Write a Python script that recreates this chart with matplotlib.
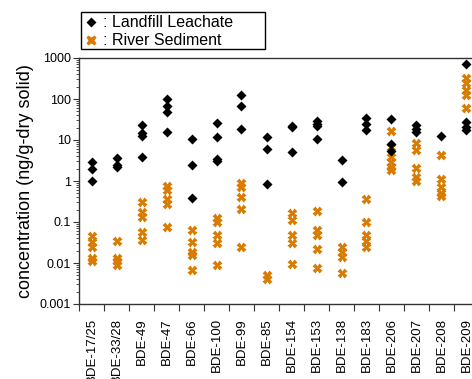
import numpy as np
import matplotlib
matplotlib.use('Agg')
import matplotlib.pyplot as plt
from matplotlib.lines import Line2D
from matplotlib.patches import Rectangle
from matplotlib.ticker import LogLocator, FixedLocator, NullFormatter

plt.rcParams['font.family'] = ['Liberation Sans', 'DejaVu Sans']

congeners = ['BDE-17/25', 'BDE-33/28', 'BDE-49', 'BDE-47', 'BDE-66', 'BDE-100',
             'BDE-99', 'BDE-85', 'BDE-154', 'BDE-153', 'BDE-138', 'BDE-183',
             'BDE-206', 'BDE-207', 'BDE-208', 'BDE-209']

# landfill leachate samples (ng/g-dry solid)
leachate = [
    [2.9, 2.0, 1.0],
    [3.6, 2.5, 2.2],
    [23, 14.5, 12.5, 3.9],
    [99, 68, 48, 16],
    [10.5, 2.4, 0.39],
    [26, 12, 3.5, 3.1],
    [126, 66, 19],
    [11.7, 5.9, 0.83],
    [22, 20.5, 5.0],
    [29.5, 24.5, 22, 10.7],
    [3.2, 0.92],
    [34, 25, 18],
    [32, 8.2, 5.4],
    [23, 19, 16],
    [12.6],
    [700, 28, 20.5, 17.5],
]

# river sediment samples (ng/g-dry solid)
sediment = [
    [0.045, 0.032, 0.025, 0.013, 0.011],
    [0.035, 0.013, 0.011, 0.009],
    [0.30, 0.18, 0.13, 0.057, 0.037],
    [0.75, 0.6, 0.36, 0.27, 0.075],
    [0.065, 0.032, 0.019, 0.016, 0.0066],
    [0.125, 0.1, 0.047, 0.03, 0.009],
    [0.9, 0.7, 0.4, 0.21, 0.025],
    [0.005, 0.004],
    [0.17, 0.11, 0.047, 0.031, 0.0096],
    [0.19, 0.063, 0.047, 0.022, 0.0077],
    [0.025, 0.019, 0.014, 0.0057],
    [0.36, 0.1, 0.047, 0.035, 0.025],
    [16.6, 6.9, 3.9, 2.95, 2.2, 1.85],
    [8.5, 5.7, 2.1, 1.25, 1.0],
    [4.3, 1.15, 0.72, 0.52, 0.42],
    [325, 243, 168, 126, 60],
]

orange = '#D97B00'
spine_col = '#333333'

fig = plt.figure(figsize=(4.72, 3.79), dpi=100)
ax = fig.add_axes([79/472, 1 - 304/379, 400/472, 246/379])

for i in range(len(congeners)):
    ax.plot([i] * len(sediment[i]), sediment[i], ls='none', marker='X',
            ms=7, color=orange, mec='none')
    ax.plot([i] * len(leachate[i]), leachate[i], ls='none', marker='D',
            ms=5, color='black', mec='none')

ax.set_yscale('log')
ax.set_ylim(0.001, 1000)
ax.set_xlim(-0.5, len(congeners) - 0.5)

ax.set_yticks([0.001, 0.01, 0.1, 1, 10, 100, 1000])
ax.set_yticklabels(['0.001', '0.01', '0.1', '1', '10', '100', '1000'])
ax.yaxis.set_minor_locator(LogLocator(base=10, subs=np.arange(2, 10), numticks=20))
ax.yaxis.set_minor_formatter(NullFormatter())

ax.set_xticks(np.arange(len(congeners)))
ax.set_xticklabels(congeners, rotation=90)
ax.xaxis.set_minor_locator(FixedLocator(np.arange(len(congeners) + 1) - 0.5))

ax.tick_params(axis='x', which='major', length=0, labelsize=9.5, pad=10)
ax.tick_params(axis='x', which='minor', length=5, width=0.8, color=spine_col, direction='out')
ax.tick_params(axis='y', which='major', length=4, width=0.8, color=spine_col,
               direction='out', labelsize=9, pad=2)
ax.tick_params(axis='y', which='minor', length=2, width=0.6, color=spine_col, direction='out')

for s in ax.spines.values():
    s.set_color(spine_col)
    s.set_linewidth(1.0)

ax.set_ylabel('concentration (ng/g-dry solid)', fontsize=13, labelpad=4)

# legend box
fig.patches.append(Rectangle((81/472, 1 - 49/379), 184/472, 37/379,
                             transform=fig.transFigure, fill=False,
                             edgecolor='black', linewidth=1.0))
handles = [Line2D([], [], ls='none', marker='D', ms=5, color='black', mec='none'),
           Line2D([], [], ls='none', marker='X', ms=7.5, color=orange, mec='none')]
fig.legend(handles, [': Landfill Leachate', ': River Sediment'],
           loc='upper left', bbox_to_anchor=(82/472, 1 - 12/379),
           frameon=False, fontsize=11.5, handlelength=0.7, handletextpad=0.4,
           labelspacing=0.2, borderpad=0.2, borderaxespad=0)

fig.savefig('out.png', dpi=100)
